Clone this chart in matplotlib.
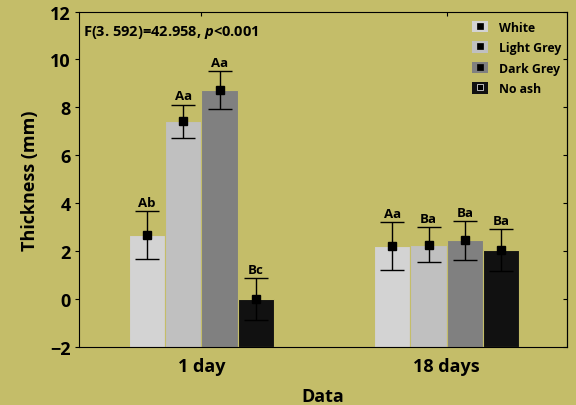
import matplotlib
matplotlib.use("Agg")
import matplotlib.pyplot as plt
import numpy as np
from matplotlib.patches import Patch
from matplotlib.lines import Line2D

plt.rcParams['font.family'] = ['Open Sans', 'DejaVu Sans']
plt.rcParams['font.weight'] = 'bold'
plt.rcParams['mathtext.fontset'] = 'custom'
plt.rcParams['mathtext.bfit'] = 'Open Sans:bold:italic'

# data
days = ["1 day", "18 days"]
ash_types = ["White", "Light Grey", "Dark Grey", "No ash"]
means = {
    "White":      [2.68, 2.20],
    "Light Grey": [7.42, 2.27],
    "Dark Grey":  [8.72, 2.45],
    "No ash":     [0.00, 2.03],
}
errors = {
    "White":      [1.00, 1.00],
    "Light Grey": [0.70, 0.72],
    "Dark Grey":  [0.79, 0.80],
    "No ash":     [0.86, 0.88],
}
letters = {
    "White":      ["Ab", "Aa"],
    "Light Grey": ["Aa", "Ba"],
    "Dark Grey":  ["Aa", "Ba"],
    "No ash":     ["Bc", "Ba"],
}
bar_colors = {"White": "#D3D3D3", "Light Grey": "#C0C0C0",
              "Dark Grey": "#808080", "No ash": "#111111"}
bg = "#C4BD69"
ymin = -2

fig = plt.figure(figsize=(5.76, 4.06), dpi=100, facecolor=bg)
ax = fig.add_axes([0.137, 0.143, 0.847, 0.826])
ax.set_facecolor(bg)

x = np.arange(len(days))
w = 0.148
handles = []
for i, name in enumerate(ash_types):
    pos = x + (i - 1.5) * w
    # bars start at the bottom of the axis, as in the original
    heights = np.array(means[name]) - ymin
    ax.bar(pos, heights, bottom=ymin, width=w, color=bar_colors[name], edgecolor=bg,
           linewidth=0.8, zorder=2)
    ax.errorbar(pos, means[name], yerr=errors[name], fmt='s', color='black', ms=6,
                capsize=8.5, elinewidth=1, capthick=1, zorder=3)
    for p, m, e, lab in zip(pos, means[name], errors[name], letters[name]):
        ax.annotate(lab, (p, m + e), xytext=(0, 1.5), textcoords='offset points',
                    ha='center', va='bottom', fontsize=9.5, fontweight='bold')
    inner = 'white' if name == "No ash" else 'black'
    handles.append((Patch(facecolor=bar_colors[name], edgecolor='none'),
                    Line2D([], [], marker='s', ls='none', color='black', ms=4, mec=inner, mew=0.5)))

ax.set_xlim(-0.5, 1.49)
ax.set_ylim(ymin, 12)
ax.set_yticks(np.arange(-2, 13, 2))
ax.set_xticks(x)
ax.set_xticklabels(days, fontsize=13, fontweight='bold')
ax.tick_params(axis='y', direction='out', length=3, labelsize=13, pad=3)
ax.tick_params(axis='x', direction='in', length=3, top=True, pad=7)
for t in ax.get_yticklabels():
    t.set_fontweight('bold')
sec = ax.secondary_yaxis('right')
sec.set_yticks(np.arange(-2, 13, 2))
sec.tick_params(direction='in', length=3, labelright=False)

ax.set_xlabel("Data", fontsize=13, fontweight='bold', labelpad=9)
ax.set_ylabel("Thickness (mm)", fontsize=13, fontweight='bold', labelpad=8)

ax.text(0.008, 0.965, r"F(3. 592)=42.958, $\boldsymbol{p}$<0.001", transform=ax.transAxes,
        fontsize=10.5, fontweight='bold', va='top', ha='left')

ax.legend(handles, ash_types, loc='upper right', bbox_to_anchor=(1.012, 1.006), frameon=False,
          handlelength=1.3, handleheight=1.05, labelspacing=0.62, handletextpad=0.95,
          prop={'weight': 'bold', 'size': 8.8})

fig.savefig("out.png", dpi=100, facecolor=bg)
